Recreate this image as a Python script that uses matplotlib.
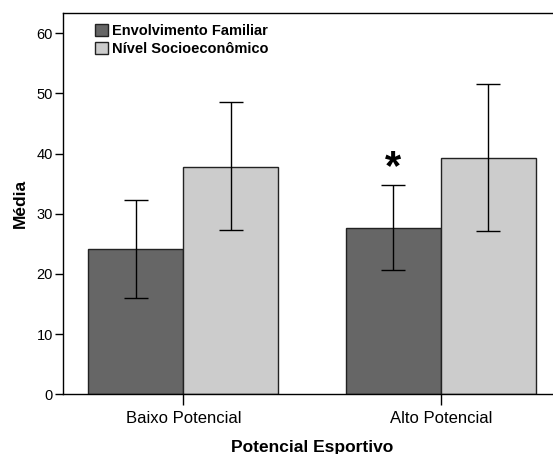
import matplotlib.pyplot as plt
import numpy as np
from matplotlib.patches import Patch

# data
groups = ['Baixo Potencial', 'Alto Potencial']
series = ['Envolvimento Familiar', 'Nível Socioeconômico']
envolvimento = [24.15, 27.7]
envolvimento_lo = [16.05, 20.6]
envolvimento_hi = [32.3, 34.8]
socioeconomico = [37.8, 39.3]
socioeconomico_lo = [27.3, 27.1]
socioeconomico_hi = [48.5, 51.6]
yticks = [0, 10, 20, 30, 40, 50, 60]

plt.rcParams['font.family'] = ['Liberation Sans', 'DejaVu Sans']

fig = plt.figure(figsize=(5.53, 4.54), dpi=100)
ax = fig.add_axes([63.3 / 553, 1 - 394.3 / 454, (560.7 - 63.3) / 553, (394.3 - 12.7) / 454])

x = np.arange(len(groups))
w = 0.369
colors = ['#666666', '#cccccc']
vals = [envolvimento, socioeconomico]
los = [envolvimento_lo, socioeconomico_lo]
his = [envolvimento_hi, socioeconomico_hi]

for i in range(2):
    xs = x + (i - 0.5) * w
    v = np.array(vals[i])
    ax.bar(xs, v, w, color=colors[i], edgecolor='#222222', linewidth=1.0, zorder=2)
    err = [v - np.array(los[i]), np.array(his[i]) - v]
    ax.errorbar(xs, v, yerr=err, fmt='none', ecolor='black', elinewidth=1.0,
                capsize=8.6, capthick=1.0, zorder=3)

# significance mark over Alto Potencial / Envolvimento Familiar
ax.text(x[1] - 0.5 * w, 37.6, '*', ha='center', va='center', fontsize=30,
        fontweight='bold', color='black')

ax.set_xlim(-0.466, 1.466)
ax.set_ylim(0, 63.4)
ax.set_yticks(yticks)
ax.set_xticks(x)
ax.set_xticklabels(groups, fontsize=12)
ax.tick_params(axis='y', labelsize=10.5, length=6, width=1, pad=1.5)
ax.tick_params(axis='x', length=8, width=1, pad=4)
ax.spines['right'].set_visible(False)
for s in ['left', 'bottom', 'top']:
    ax.spines[s].set_linewidth(1.0)
    ax.spines[s].set_color('black')

ax.set_ylabel('Média', fontsize=12.5, fontweight='bold', labelpad=6)
ax.set_xlabel('Potencial Esportivo', fontsize=12.5, fontweight='bold', labelpad=10)

handles = [Patch(facecolor=colors[i], edgecolor='#222222', linewidth=1.0) for i in range(2)]
leg = ax.legend(handles, series, loc='upper left', bbox_to_anchor=(95 / 553, 1 - 24 / 454),
                bbox_transform=fig.transFigure, frameon=False, borderpad=0, borderaxespad=0,
                handlelength=0.9, handleheight=0.9, handletextpad=0.25, labelspacing=0.27,
                prop={'size': 10.5, 'weight': 'bold'})

fig.savefig('out.png', dpi=100)
